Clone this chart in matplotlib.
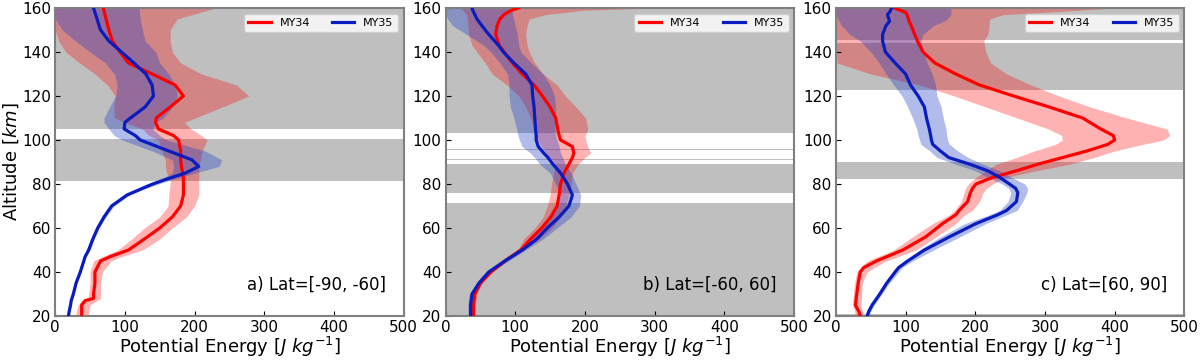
#potential energy profiles for the three latitude bands, MY34 vs MY35
import matplotlib.pyplot as plt

years = ['MY34', 'MY35']
panel_titles = ['a) Lat=[-90, -60]', 'b) Lat=[-60, 60]', 'c) Lat=[60, 90]']

#panel a
alt_a = [20, 22, 25, 27, 28, 30, 35, 40, 45, 47, 50, 55, 60, 65, 70, 75, 78, 80, 82, 85, 88,
         91, 95, 100, 102, 105, 108, 110, 115, 120, 125, 130, 135, 140, 145, 150, 155, 160]
my34_a = [38, 38, 38, 43, 55, 55, 57, 57, 65, 79, 105, 128, 150, 168, 180, 184, 184, 184, 184, 183, 181,
          180, 180, 177, 170, 148, 144, 145, 165, 184, 172, 139, 105, 93, 82, 77, 73, 69]
my34_a_lo = [30, 30, 33, 38, 48, 48, 50, 50, 55, 68, 90, 110, 128, 150, 162, 163, 164, 165, 165, 160, 158,
             158, 153, 148, 135, 125, 100, 85, 84, 86, 75, 57, 35, 15, 5, 0, 0, 0]
my34_a_hi = [48, 48, 50, 60, 65, 65, 65, 68, 80, 95, 125, 150, 168, 188, 200, 206, 206, 206, 206, 206, 206,
             208, 211, 218, 210, 195, 185, 201, 240, 278, 260, 210, 180, 168, 165, 165, 175, 230]
my35_a = [19, 20, 22, 23, 24, 26, 30, 36, 41, 43, 48, 54, 61, 70, 81, 103, 125, 140, 158, 187, 206,
          196, 163, 122, 115, 99, 100, 108, 129, 141, 139, 130, 113, 95, 77, 65, 60, 55]
my35_a_lo = [18, 19, 21, 22, 23, 25, 29, 35, 40, 42, 46, 52, 59, 67, 78, 99, 120, 132, 150, 168, 170,
             168, 139, 96, 85, 77, 70, 70, 78, 87, 89, 85, 72, 50, 29, 10, 0, 0]
my35_a_hi = [20, 21, 23, 24, 25, 27, 31, 37, 42, 44, 50, 56, 63, 73, 84, 107, 130, 148, 168, 201, 235,
             239, 215, 160, 150, 140, 144, 155, 168, 175, 172, 163, 150, 144, 129, 125, 122, 120]

#panel b
alt_b = [20, 25, 30, 35, 40, 45, 50, 55, 60, 65, 70, 75, 80, 85, 89, 92, 94, 97, 100, 102,
         105, 110, 115, 120, 125, 130, 135, 140, 143, 148, 152, 155, 157, 159, 160]
my34_b = [40, 40, 42, 50, 65, 85, 108, 122, 138, 151, 160, 163, 165, 170, 177, 182, 184, 182, 165, 163,
          161, 158, 150, 139, 127, 110, 96, 84, 77, 72, 74, 78, 84, 95, 105]
my34_b_lo = [37, 37, 39, 47, 62, 82, 104, 112, 128, 140, 146, 150, 152, 155, 158, 150, 144, 138, 132, 129,
             127, 122, 115, 105, 88, 67, 57, 45, 38, 33, 32, 31, 30, 25, 20]
my34_b_hi = [43, 43, 45, 53, 68, 88, 112, 135, 153, 165, 172, 177, 180, 182, 190, 200, 208, 204, 201, 200,
             204, 201, 187, 172, 160, 140, 128, 120, 117, 115, 117, 120, 144, 200, 300]
my35_b = [36, 36, 38, 48, 62, 85, 110, 131, 146, 163, 177, 182, 175, 165, 154, 147, 141, 133, 130, 130,
          129, 128, 127, 125, 124, 115, 98, 83, 76, 62, 52, 45, 42, 39, 38]
my35_b_lo = [32, 32, 34, 45, 58, 80, 102, 122, 135, 150, 160, 165, 158, 150, 135, 128, 122, 110, 106, 104,
             102, 98, 93, 91, 91, 89, 78, 65, 55, 30, 10, 3, 0, 0, 0]
my35_b_hi = [40, 40, 43, 52, 66, 90, 115, 140, 160, 180, 192, 194, 187, 180, 172, 168, 165, 163, 160, 158,
             157, 158, 158, 156, 150, 140, 123, 108, 105, 103, 100, 98, 96, 96, 96]

#panel c
alt_c = [20, 22, 25, 30, 35, 40, 42, 45, 50, 56, 62, 66, 68, 72, 76, 78, 80, 83, 86, 89, 92,
         95, 98, 100, 102, 105, 110, 115, 120, 125, 130, 135, 140, 145, 148, 152, 154, 155, 157, 158, 160]
my34_c = [35, 33, 28, 30, 32, 35, 40, 58, 96, 129, 153, 172, 177, 189, 193, 196, 201, 225, 259, 290, 325,
          360, 390, 400, 398, 380, 354, 306, 255, 206, 172, 142, 125, 117, 113, 108, 105, 104, 102, 100, 84]
my34_c_lo = [28, 27, 24, 25, 27, 30, 35, 45, 83, 110, 139, 163, 170, 180, 184, 186, 190, 201, 215, 230, 259,
             285, 315, 325, 324, 305, 260, 215, 170, 120, 50, 2, 0, 0, 0, 0, 0, 0, 0, 0, 0]
my34_c_hi = [39, 38, 36, 37, 38, 45, 55, 72, 115, 144, 172, 185, 196, 206, 211, 216, 225, 244, 287, 335, 370,
             400, 440, 470, 479, 475, 417, 365, 320, 280, 245, 222, 215, 212, 218, 220, 220, 221, 240, 300, 400]
my35_c = [45, 47, 52, 63, 73, 85, 90, 103, 127, 163, 201, 232, 245, 259, 261, 258, 249, 235, 218, 192, 162,
          150, 139, 137, 136, 134, 130, 127, 118, 107, 100, 85, 71, 67, 67, 72, 77, 76, 74, 77, 80]
my35_c_lo = [42, 44, 49, 60, 70, 81, 86, 98, 120, 150, 185, 220, 235, 247, 251, 248, 239, 218, 200, 172, 145,
             135, 122, 120, 118, 116, 110, 103, 95, 83, 72, 62, 50, 35, 20, 8, 5, 3, 0, 0, 0]
my35_c_hi = [48, 50, 55, 66, 77, 90, 95, 110, 140, 178, 215, 245, 260, 268, 274, 275, 271, 252, 235, 211, 190,
             175, 163, 160, 159, 158, 154, 151, 145, 143, 138, 131, 126, 122, 125, 140, 155, 160, 165, 165, 165]

#grey altitude bands (bottom, top) for each panel
bands_a = [(81.5, 100.6), (104.8, 160)]
bands_b = [(20, 71.5), (76, 89), (90.8, 91.4), (95.3, 95.7), (103, 160)]
bands_c = [(20, 21), (82.4, 90), (122.7, 144), (145.5, 160)]

panels = [
    (alt_a, my34_a, my34_a_lo, my34_a_hi, my35_a, my35_a_lo, my35_a_hi, bands_a),
    (alt_b, my34_b, my34_b_lo, my34_b_hi, my35_b, my35_b_lo, my35_b_hi, bands_b),
    (alt_c, my34_c, my34_c_lo, my34_c_hi, my35_c, my35_c_lo, my35_c_hi, bands_c),
]

fig, axes = plt.subplots(1, 3, figsize=(12, 3.62), dpi=100)
fig.subplots_adjust(left=0.046, right=0.987, top=0.978, bottom=0.127, wspace=0.12)

for ax, p, title in zip(axes, panels, panel_titles):
    alt, r, r_lo, r_hi, b, b_lo, b_hi, bands = p
    for lo, hi in bands:
        ax.axhspan(lo, hi, color='#bfbfbf', zorder=0, lw=0)
    ax.fill_betweenx(alt, r_lo, r_hi, color='red', alpha=0.3, lw=0, zorder=1)
    ax.fill_betweenx(alt, b_lo, b_hi, color='#2040c8', alpha=0.35, lw=0, zorder=1)
    ax.plot(r, alt, color='red', lw=2.3, label=years[0], zorder=3)
    ax.plot(b, alt, color='#0a1cbe', lw=2.3, label=years[1], zorder=3)
    ax.set_xlim(0, 500)
    ax.set_ylim(20, 160)
    ax.tick_params(direction='in', labelsize=11, pad=3)
    for s in ax.spines.values():
        s.set_color('gray')
        s.set_linewidth(1.5)
    ax.set_xlabel(r'Potential Energy [$J\ kg^{-1}$]', fontsize=13, labelpad=0)
    ax.text(0.95, 0.1, title, transform=ax.transAxes, ha='right', va='center', fontsize=12)
    ax.legend(loc='upper right', ncol=2, fontsize=8, framealpha=0.8)

axes[0].set_ylabel(r'Altitude [$km$]', fontsize=13, labelpad=1)

plt.savefig('out.png')
